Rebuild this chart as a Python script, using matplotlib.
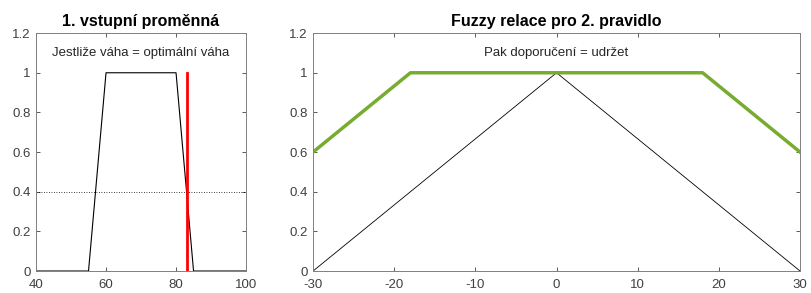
import matplotlib.pyplot as plt
import numpy as np

plt.rcParams["font.family"] = ["Liberation Sans", "DejaVu Sans"]

# left panel: input membership function
in_x = [40, 55, 60, 80, 85, 100]
in_mu = [0, 0, 1, 1, 0, 0]
crisp_input = 83
firing_level = 0.4

# right panel: output membership and fuzzy relation
out_x = [-30, 0, 30]
out_mu = [0, 1, 0]
rel_x = [-30, -18, 18, 30]
rel_mu = [0.6, 1, 1, 0.6]

y_ticks = [0, 0.2, 0.4, 0.6, 0.8, 1, 1.2]
y_labels = ["0", "0.2", "0.4", "0.6", "0.8", "1", "1.2"]
left_xticks = [40, 60, 80, 100]
right_xticks = [-30, -20, -10, 0, 10, 20, 30]

AX_COLOR = "#404040"
TICK_SIZE = 9.5


def style_axis(axis, xticks):
    axis.set_yticks(y_ticks, labels=y_labels)
    axis.set_xticks(xticks, labels=[str(t) for t in xticks])
    axis.tick_params(direction="in", top=True, right=True, length=3,
                     width=0.6, colors=AX_COLOR, labelsize=TICK_SIZE)
    axis.tick_params(axis="x", pad=6)
    axis.tick_params(axis="y", pad=4)
    for spine in axis.spines.values():
        spine.set_color("#808080")
        spine.set_linewidth(0.7)
    axis.set_ylim(0, 1.2)


fig = plt.figure(figsize=(8.11, 2.93), dpi=100)
ax1 = fig.add_axes([0.0444, 0.075, 0.259, 0.812])
ax2 = fig.add_axes([0.386, 0.075, 0.6005, 0.812])

ax1.plot(in_x, in_mu, color="black", linewidth=0.8)
ax1.axhline(firing_level, color="black", linestyle=(0, (1, 2)), linewidth=0.6)
ax1.plot([crisp_input, crisp_input], [0, 1], color="red", linewidth=2)
ax1.set_xlim(40, 100)
ax1.text(70, 1.1, "Jestliže váha = optimální váha", ha="center", va="center",
         fontsize=9.5, color="#262626")
ax1.set_title("1. vstupní proměnná", fontsize=11.5, fontweight="bold", pad=5)
style_axis(ax1, left_xticks)

ax2.plot(out_x, out_mu, color="black", linewidth=0.6)
ax2.plot(rel_x, rel_mu, color="#77ac30", linewidth=2.5)
ax2.set_xlim(-30, 30)
ax2.text(0, 1.1, "Pak doporučení = udržet", ha="center", va="center",
         fontsize=9.5, color="#262626")
ax2.set_title("Fuzzy relace pro 2. pravidlo", fontsize=11.5, fontweight="bold", pad=5)
style_axis(ax2, right_xticks)

fig.savefig("out.png", dpi=100)
